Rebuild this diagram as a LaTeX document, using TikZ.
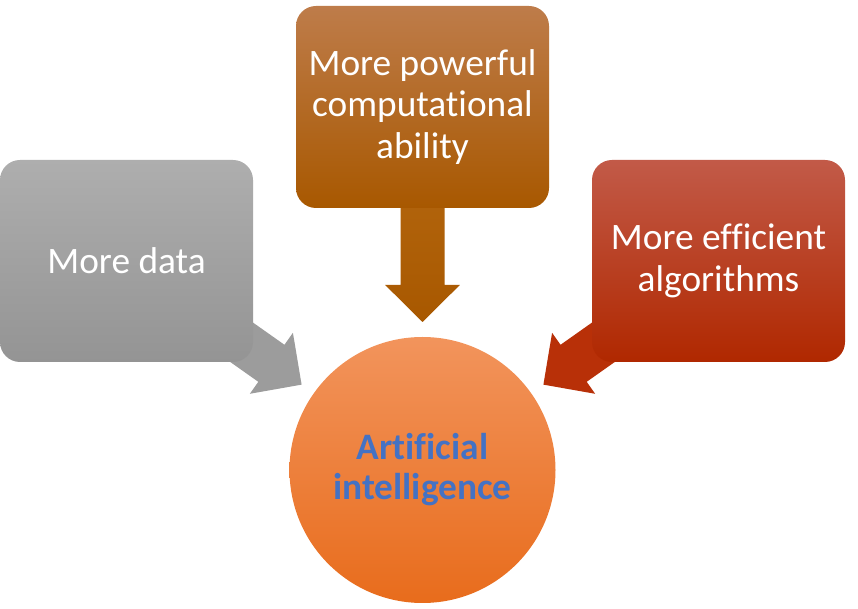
\documentclass[tikz,border=0pt]{standalone}
\usepackage{fontspec}
\setmainfont{Carlito}[Ligatures=NoCommon]
\usetikzlibrary{calc}
\usetikzlibrary{positioning}
\usetikzlibrary{backgrounds}

\definecolor{grayTop}{RGB}{174,174,174}
\definecolor{grayBot}{RGB}{148,148,148}
\definecolor{grayArrow}{RGB}{156,156,156}
\definecolor{brownTop}{RGB}{190,124,74}
\definecolor{brownMid}{RGB}{180,100,8}
\definecolor{brownBot}{RGB}{168,88,0}
\definecolor{redTop}{RGB}{194,90,72}
\definecolor{redMid}{RGB}{184,48,8}
\definecolor{redBot}{RGB}{176,40,0}
\definecolor{orangeTop}{RGB}{242,148,92}
\definecolor{orangeBot}{RGB}{232,108,28}
\definecolor{aiBlue}{RGB}{68,114,196}

\begin{document}
\begin{tikzpicture}
	[
	x=0.75pt, y=-0.75pt,
	factor/.style = {rectangle, rounded corners=15pt, minimum width=189.75pt, minimum height=151.5pt, inner sep=0pt, align=center, text=white, font=\fontsize{28}{31}\selectfont},
	ball/.style = {circle, minimum size=199.5pt, inner sep=0pt, align=center, top color=orangeTop, bottom color=orangeBot, text=aiBlue, font=\fontsize{28}{30}\selectfont\bfseries}
	]
	\useasboundingbox (0,0) rectangle (858,609);

	\node[factor, top color=grayTop, bottom color=grayBot] (data) at (126.5,261) {More data};
	\node[factor, top color=brownTop, middle color=brownMid, bottom color=brownBot] (power) at (422.5,107) {More powerful\\computational\\ability};
	\node[factor, top color=redTop, middle color=redMid, bottom color=redBot] (algo) at (718.5,261) {More efficient\\algorithms};
	\node[ball] (ai) at (422.5,470) {Artificial\\intelligence};

	% block arrows behind the boxes
	\begin{scope}[on background layer]
	\coordinate (tipL) at ($(ai.center)!111pt!(data.center)$);
	\coordinate (baseL) at ($(tipL)!27.75pt!(data.center)$);
	\fill[grayArrow] (tipL) -- ($(baseL)!28pt!90:(tipL)$) -- ($(baseL)!17pt!90:(tipL)$) -- ($(data.center)!17pt!90:(tipL)$)
		-- ($(data.center)!17pt!-90:(tipL)$) -- ($(baseL)!17pt!-90:(tipL)$) -- ($(baseL)!28pt!-90:(tipL)$) -- cycle;

	\coordinate (tipT) at ($(ai.center)!111pt!(power.center)$);
	\coordinate (baseT) at ($(tipT)!27.75pt!(power.center)$);
	\shade[top color=brownMid!95!white, bottom color=brownBot] (tipT) -- ($(baseT)!28pt!90:(tipT)$) -- ($(baseT)!16.5pt!90:(tipT)$) -- ($(power.center)!16.5pt!90:(tipT)$)
		-- ($(power.center)!16.5pt!-90:(tipT)$) -- ($(baseT)!16.5pt!-90:(tipT)$) -- ($(baseT)!28pt!-90:(tipT)$) -- cycle;

	\coordinate (tipR) at ($(ai.center)!111pt!(algo.center)$);
	\coordinate (baseR) at ($(tipR)!27.75pt!(algo.center)$);
	\fill[redMid] (tipR) -- ($(baseR)!28pt!90:(tipR)$) -- ($(baseR)!17pt!90:(tipR)$) -- ($(algo.center)!17pt!90:(tipR)$)
		-- ($(algo.center)!17pt!-90:(tipR)$) -- ($(baseR)!17pt!-90:(tipR)$) -- ($(baseR)!28pt!-90:(tipR)$) -- cycle;
	\end{scope}
\end{tikzpicture}
\end{document}
